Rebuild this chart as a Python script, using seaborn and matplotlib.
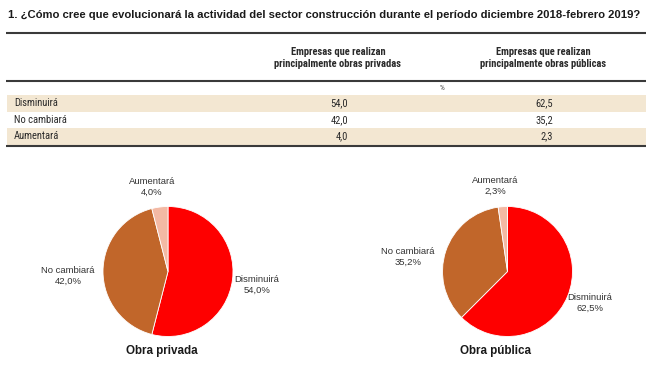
import matplotlib
matplotlib.use("Agg")
import matplotlib.pyplot as plt
import seaborn as sns
from matplotlib.font_manager import fontManager

title = "1. ¿Cómo cree que evolucionará la actividad del sector construcción durante el período diciembre 2018-febrero 2019?"
categories = ["Disminuirá", "No cambiará", "Aumentará"]
col_headers = ["Empresas que realizan\nprincipalmente obras privadas",
               "Empresas que realizan\nprincipalmente obras públicas"]
privada = [54.0, 42.0, 4.0]
publica = [62.5, 35.2, 2.3]
pie_titles = ["Obra privada", "Obra pública"]
colors = ["#fe0000", "#c1662a", "#f3b9a4"]

sns.set_theme(style="white")
fonts = {}
for f in fontManager.ttflist:
    fonts.setdefault(f.name, set()).add((f.weight, f.style))
prefs = ["Roboto Condensed", "Liberation Sans Narrow", "Archivo Narrow", "PT Sans Narrow",
         "Fira Sans Condensed", "IBM Plex Sans Condensed", "Encode Sans Condensed",
         "Open Sans Condensed", "Barlow Condensed"]
narrow_name = None
for p in prefs:
    if p in fonts and any(w in (700, "bold") for w, s in fonts[p]):
        narrow_name = p
        break
has_narrow = narrow_name is not None
narrow = [narrow_name, "DejaVu Sans"] if has_narrow else ["Liberation Sans", "DejaVu Sans"]
plt.rcParams["font.family"] = ["Liberation Sans", "DejaVu Sans"]

W, H = 654, 370
fig = plt.figure(figsize=(W / 100, H / 100), dpi=100)
fig.patch.set_facecolor("white")

tab = fig.add_axes([0, 0, 1, 1])
tab.set_xlim(0, W)
tab.set_ylim(H, 0)
tab.axis("off")

def fmt(v):
    return f"{v:.1f}".replace(".", ",")

hs = 7.6 if has_narrow else 6.0
rs = 7.6 if has_narrow else 6.2

tab.text(8, 15, title, fontsize=8.1, fontweight="bold", va="center", ha="left", color="#1a1a1a")
tab.plot([6, 646], [33, 33], color="#3a3a3a", lw=1.5, solid_capstyle="butt")
tab.text(338, 58, col_headers[0], fontsize=hs, fontweight="bold", family=narrow,
         ha="center", va="center", linespacing=1.35, color="#2a2a2a")
tab.text(543.5, 58, col_headers[1], fontsize=hs, fontweight="bold", family=narrow,
         ha="center", va="center", linespacing=1.35, color="#2a2a2a")
tab.plot([6, 646], [81, 81], color="#3a3a3a", lw=1.5, solid_capstyle="butt")
tab.text(442, 87.5, "%", fontsize=5.5, family=narrow, ha="center", va="center", color="#444444")

row_top = 95
row_h = 16.5
for i, cat in enumerate(categories):
    y0 = row_top + i * row_h
    if i % 2 == 0:
        tab.add_patch(plt.Rectangle((7, y0), 639, row_h, color="#f3e7d2", lw=0))
    yc = y0 + row_h / 2
    tab.text(14, yc, cat, fontsize=rs, family=narrow, ha="left", va="center", color="#2a2a2a")
    tab.text(348, yc, fmt(privada[i]), fontsize=rs, family=narrow, ha="right", va="center", color="#2a2a2a")
    tab.text(553, yc, fmt(publica[i]), fontsize=rs, family=narrow, ha="right", va="center", color="#2a2a2a")
tab.plot([6, 646], [row_top + 3 * row_h + 1, row_top + 3 * row_h + 1], color="#3a3a3a", lw=1.5,
         solid_capstyle="butt")

centers = [(168, 271.5), (507.5, 271.5)]
R = 65
label_pos = [
    [(257, 285), (68, 276), (152, 187)],
    [(590, 303), (408, 257), (495, 186)],
]
for k, (vals, (cx, cy)) in enumerate(zip([privada, publica], centers)):
    ax = fig.add_axes([(cx - R) / W, (H - cy - R) / H, 2 * R / W, 2 * R / H])
    ax.pie(vals, colors=colors, startangle=90, counterclock=False,
           wedgeprops=dict(linewidth=0.6, edgecolor="white"))
    ax.set_xlim(-1, 1)
    ax.set_ylim(-1, 1)
    ax.set_aspect("equal")
    ax.axis("off")
    for (lx, ly), cat, v in zip(label_pos[k], categories, vals):
        tab.text(lx, ly, f"{cat}\n{fmt(v)}%", fontsize=6.8, ha="center", va="center",
                 linespacing=1.25, color="#333333")
    tab.text(cx - 6 if k == 0 else cx - 12, 351, pie_titles[k], fontsize=8.4, fontweight="bold",
             ha="center", va="center", color="#1a1a1a")

fig.savefig("out.png", dpi=100)
